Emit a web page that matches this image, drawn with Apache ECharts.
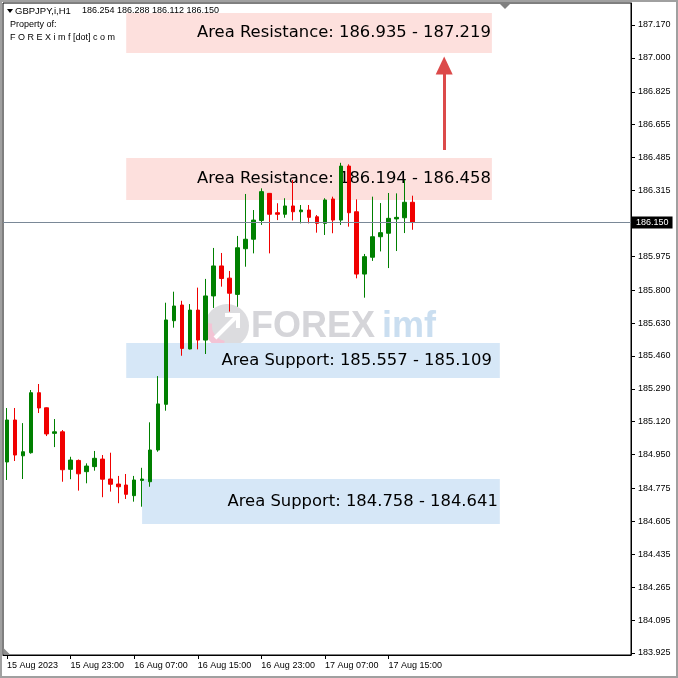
<!DOCTYPE html>
<html><head><meta charset="utf-8">
<script src="https://cdn.jsdelivr.net/npm/echarts@6/dist/echarts.min.js"></script>
<style>html,body{margin:0;padding:0;background:#fff}#c{width:678px;height:678px}</style>
</head><body><div id="c"></div>
<script>
// ---------- data ----------
const symbolName = 'GBPJPY,i,H1';
const times = [
  '2023.08.15 15:00','2023.08.15 16:00','2023.08.15 17:00','2023.08.15 18:00','2023.08.15 19:00','2023.08.15 20:00','2023.08.15 21:00','2023.08.15 22:00','2023.08.15 23:00',
  '2023.08.16 00:00','2023.08.16 01:00','2023.08.16 02:00','2023.08.16 03:00','2023.08.16 04:00','2023.08.16 05:00','2023.08.16 06:00','2023.08.16 07:00',
  '2023.08.16 08:00','2023.08.16 09:00','2023.08.16 10:00','2023.08.16 11:00','2023.08.16 12:00','2023.08.16 13:00','2023.08.16 14:00','2023.08.16 15:00',
  '2023.08.16 16:00','2023.08.16 17:00','2023.08.16 18:00','2023.08.16 19:00','2023.08.16 20:00','2023.08.16 21:00','2023.08.16 22:00','2023.08.16 23:00',
  '2023.08.17 00:00','2023.08.17 01:00','2023.08.17 02:00','2023.08.17 03:00','2023.08.17 04:00','2023.08.17 05:00','2023.08.17 06:00','2023.08.17 07:00',
  '2023.08.17 08:00','2023.08.17 09:00','2023.08.17 10:00','2023.08.17 11:00','2023.08.17 12:00','2023.08.17 13:00','2023.08.17 14:00','2023.08.17 15:00',
  '2023.08.17 16:00','2023.08.17 17:00','2023.08.17 18:00'
];
const open = [184.912,185.129,184.944,184.960,185.270,185.192,185.060,185.068,184.874,184.920,184.862,184.888,184.927,184.824,184.798,184.793,184.738,184.817,184.810,184.974,185.210,185.642,185.723,185.496,185.697,185.542,185.770,185.925,185.862,185.778,186.014,186.063,186.160,186.300,186.200,186.192,186.235,186.205,186.214,186.179,186.145,186.271,186.162,186.441,186.205,185.883,185.970,186.076,186.094,186.168,186.174,186.254];
const close = [185.129,184.948,184.965,185.270,185.191,185.057,185.068,184.872,184.922,184.851,184.891,184.931,184.823,184.797,184.784,184.745,184.819,184.824,184.974,185.212,185.646,185.718,185.499,185.697,185.542,185.770,185.925,185.860,185.784,186.019,186.063,186.162,186.309,186.192,186.192,186.235,186.205,186.214,186.176,186.145,186.266,186.162,186.441,186.200,185.883,185.973,186.076,186.097,186.171,186.176,186.254,186.150];
const low = [184.819,184.917,184.824,184.955,185.165,185.046,184.989,184.810,184.823,184.764,184.802,184.867,184.730,184.759,184.699,184.721,184.707,184.681,184.784,184.965,185.177,185.606,185.461,185.494,185.494,185.470,185.708,185.818,185.689,185.714,185.921,185.990,186.137,185.990,186.162,186.174,186.160,186.145,186.145,186.097,186.085,186.094,186.137,186.128,185.861,185.761,185.951,186.000,185.914,186.002,186.095,186.112];
const high = [185.191,185.191,185.113,185.284,185.315,185.194,185.134,185.077,184.939,184.925,184.905,184.969,184.948,184.960,184.840,184.850,184.840,184.882,185.117,185.356,185.735,185.792,185.745,185.728,185.813,185.858,186.018,185.992,185.899,186.080,186.297,186.214,186.326,186.302,186.249,186.275,186.369,186.240,186.240,186.188,186.275,186.283,186.458,186.450,186.269,185.987,186.283,186.250,186.302,186.300,186.369,186.288];
const yTickValues = [183.925,184.095,184.265,184.435,184.605,184.775,184.950,185.120,185.290,185.460,185.630,185.800,185.975,186.315,186.485,186.655,186.825,187.000,187.170];
const lastPrice = 186.150;
// zones: label text values and drawn extents
const zoneNames = ['Area Resistance','Area Resistance','Area Support','Area Support'];
const zoneTextA = ['186.935','186.194','185.557','184.758'];
const zoneTextB = ['187.219','186.458','185.109','184.641'];
const zoneTop = [187.232,186.483,185.527,184.824];
const zoneBottom = [187.025,186.266,185.346,184.592];
const zoneStart = [15,15,15,17];
const zoneEnd = [61,61,62,62];
const zoneKinds = ['res','res','sup','sup'];
// arrow (category index, from price, to price)
const arrowAt = 55, arrowFrom = 186.524, arrowTo = 186.961;

// ---------- styles / layout ----------
const UP = '#008000', DOWN = '#f00000';
const zoneFill = {res:'#fde0dd', sup:'#d6e7f7'};
const zoneLabelDist = [1,1,8,2];
const MONTHS = ['Jan','Feb','Mar','Apr','May','Jun','Jul','Aug','Sep','Oct','Nov','Dec'];
const SMALL = 'Liberation Sans';
const TOTAL_SLOTS = 79; // chart shift: empty future bars to the right

const slots = times.slice();
for (let k = 1; slots.length < TOTAL_SLOTS; k++) slots.push('future+' + k);

const ohlc = times.map((t,i)=>[open[i],close[i],low[i],high[i]]);
const showX = i => i % 8 === 0 && i < times.length;
function fmtX(v){
  if(!v || v.indexOf('future') === 0) return '';
  const d = v.split(' ')[0].split('.'), hm = v.split(' ')[1];
  const base = parseInt(d[2],10)+' '+MONTHS[parseInt(d[1],10)-1];
  return v === times[0] ? base+' '+d[0] : base+' '+hm;
}
const n = times.length-1;
const headerVals = [open[n],high[n],low[n],close[n]].map(v=>v.toFixed(3)).join(' ');

const chart = echarts.init(document.getElementById('c'), null, {renderer:'canvas'});
chart.setOption({
  animation:false,
  backgroundColor:'#fff',
  grid:{left:3,right:47,top:3,bottom:23,show:true,borderColor:'#000',borderWidth:1,backgroundColor:'transparent'},
  xAxis:{
    type:'category', data:slots, boundaryGap:true,
    axisLine:{show:true,lineStyle:{color:'#000',width:1}},
    axisTick:{show:true,alignWithLabel:true,length:4,interval:showX,lineStyle:{color:'#000'}},
    axisLabel:{show:true,interval:showX,formatter:fmtX,align:'left',margin:6,fontSize:9,fontFamily:SMALL,color:'#000'},
    splitLine:{show:false}
  },
  yAxis:{
    type:'value', position:'right', min:183.9147, max:187.2837,
    axisLine:{show:true,lineStyle:{color:'#000',width:1}},
    axisTick:{show:true,length:4,customValues:yTickValues,lineStyle:{color:'#000'}},
    axisLabel:{show:true,customValues:yTickValues,formatter:v=>Number(v).toFixed(3),margin:7,fontSize:9,fontFamily:SMALL,color:'#000'},
    splitLine:{show:false}
  },
  graphic:[
    {type:'group', z:0, silent:true, children:[
      {type:'circle', shape:{cx:227,cy:326,r:22}, style:{fill:'#dcdcdf'}},
      {type:'sector', shape:{cx:227,cy:326,r:23,r0:15,startAngle:Math.PI*0.55,endAngle:Math.PI*1.05}, style:{fill:'#f3c4d5'}},
      {type:'polyline', shape:{points:[[215,338],[237,316]]}, style:{stroke:'#fff',lineWidth:4}},
      {type:'polyline', shape:{points:[[225,315],[238,315],[238,328]]}, style:{stroke:'#fff',lineWidth:4,fill:null}},
      {type:'text', x:251, y:327, style:{text:'FOREX', font:'bold 36px "Liberation Sans"', fill:'#d5d5d9', verticalAlign:'middle'}},
      {type:'text', x:382, y:327, style:{text:'imf', font:'bold 36px "Liberation Sans"', fill:'#cadef0', verticalAlign:'middle'}}
    ]},
    {type:'group', z:100, silent:true, children:[
      {type:'polygon', shape:{points:[[7,9],[13,9],[10,13]]}, style:{fill:'#000'}},
      {type:'text', x:15, y:11, style:{text:symbolName, font:'9.5px "Liberation Sans"', fill:'#000', verticalAlign:'middle'}},
      {type:'text', x:82, y:11, style:{text:headerVals, font:'9px "Liberation Sans"', fill:'#000', verticalAlign:'middle'}},
      {type:'text', x:10, y:25, style:{text:'Property of:', font:'9px "Liberation Sans"', fill:'#000', verticalAlign:'middle'}},
      {type:'text', x:10, y:38, style:{text:'F O R E X i m f [dot] c o m', font:'9px "Liberation Sans"', fill:'#000', verticalAlign:'middle'}},
      {type:'polygon', shape:{points:[[499,3],[511,3],[505,9]]}, style:{fill:'#808080'}},
      {type:'polygon', shape:{points:[[3.5,648],[3.5,654.5],[10,654.5]]}, style:{fill:'#909090'}},
      {type:'rect', shape:{x:1,y:1,width:676,height:676}, style:{stroke:'#a0a0a0',lineWidth:2,fill:null}}
    ]}
  ],
  series:[
    {
      type:'line', data:[], z:1, silent:true,
      markArea:{
        silent:true,
        data: zoneNames.map((nm,i)=>[
          {xAxis:zoneStart[i], yAxis:zoneTop[i],
           itemStyle:{color:zoneFill[zoneKinds[i]], opacity:1},
           label:{show:true, position:'insideRight', distance:zoneLabelDist[i],
                  formatter: nm+': '+zoneTextA[i]+' - '+zoneTextB[i],
                  color:'#000', fontSize:16.4, fontFamily:'DejaVu Sans'}},
          {xAxis:zoneEnd[i], yAxis:zoneBottom[i]}
        ])
      },
      markLine:{
        silent:true, symbol:['none','none'], animation:false,
        data:[
          [{xAxis:0, yAxis:lastPrice, x:3, lineStyle:{color:'#7a8897',width:1,type:'solid'},
            label:{show:true,position:'end',distance:1,formatter:lastPrice.toFixed(3),backgroundColor:'#000',color:'#fff',padding:[2,4,1,4],fontSize:9,fontFamily:SMALL}},
           {xAxis:TOTAL_SLOTS-1, yAxis:lastPrice, x:631}],
          [{coord:[arrowAt,arrowFrom], symbol:'none', lineStyle:{color:'#dc4a4a',width:3,type:'solid'}, label:{show:false}},
           {coord:[arrowAt,arrowTo], symbol:'triangle', symbolSize:[17,18], lineStyle:{color:'#dc4a4a',width:3,type:'solid'}, itemStyle:{color:'#dc4a4a'}}]
        ]
      }
    },
    {
      type:'candlestick', data:ohlc, z:3, barWidth:4,
      itemStyle:{color:UP,color0:DOWN,borderColor:UP,borderColor0:DOWN,borderWidth:1}
    }
  ]
});
</script></body></html>
